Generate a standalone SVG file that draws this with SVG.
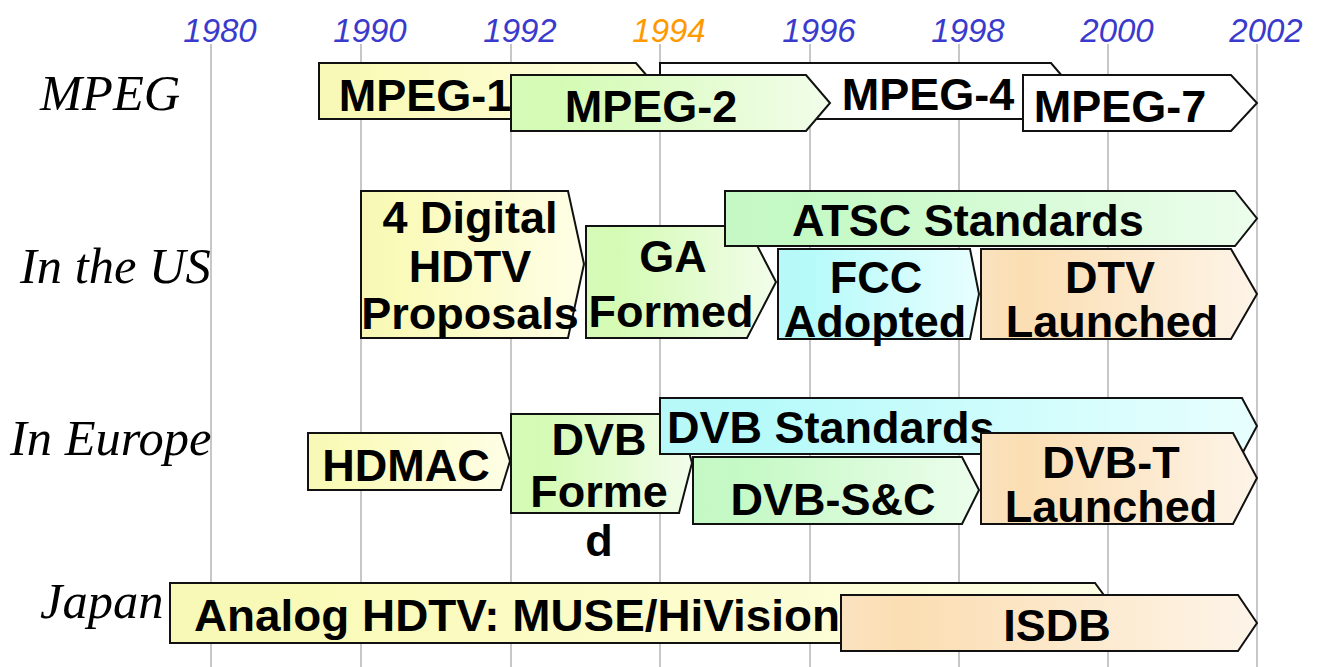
<svg xmlns="http://www.w3.org/2000/svg" width="1319" height="667" viewBox="0 0 1319 667">
<style>
.bg{fill:#ffffff}
.grid line{stroke:#b4b4b4;stroke-width:1.5}
.yr{font-family:"Liberation Sans",Arial,sans-serif;font-style:italic;font-size:33px;fill:#3a3acc;text-anchor:middle}
.yr.hl{fill:#ff9900}
.row{font-family:"Liberation Serif","Times New Roman",serif;font-style:italic;font-size:50.5px;fill:#000}
.box{stroke:#111;stroke-width:2;stroke-linejoin:miter}
.t{font-family:"Liberation Sans",Arial,sans-serif;font-weight:bold;font-size:45px;fill:#000;text-anchor:middle}
.ts{text-anchor:start}
.yel{fill:url(#gYel)}
.grn{fill:url(#gGrn)}
.mnt{fill:url(#gMnt)}
.cyn{fill:url(#gCyn)}
.pch{fill:url(#gPch)}
.wht{fill:#ffffff}
</style>
<defs>
<linearGradient id="gYel" x1="0" y1="0" x2="1" y2="0">
<stop offset="0" stop-color="#f8f8b6"/><stop offset="0.15" stop-color="#fafab8"/><stop offset="1" stop-color="#fefee6"/>
</linearGradient>
<linearGradient id="gGrn" x1="0" y1="0" x2="1" y2="0">
<stop offset="0" stop-color="#d6fab8"/><stop offset="0.15" stop-color="#d4fbb4"/><stop offset="1" stop-color="#f2fdea"/>
</linearGradient>
<linearGradient id="gMnt" x1="0" y1="0" x2="1" y2="0">
<stop offset="0" stop-color="#c6f8c6"/><stop offset="0.15" stop-color="#c4f9c4"/><stop offset="1" stop-color="#ecfdec"/>
</linearGradient>
<linearGradient id="gCyn" x1="0" y1="0" x2="1" y2="0">
<stop offset="0" stop-color="#b8f8f8"/><stop offset="0.15" stop-color="#b6fafa"/><stop offset="1" stop-color="#e8fefe"/>
</linearGradient>
<linearGradient id="gPch" x1="0" y1="0" x2="1" y2="0">
<stop offset="0" stop-color="#fae2c0"/><stop offset="0.15" stop-color="#fbdeb2"/><stop offset="1" stop-color="#fdf4e8"/>
</linearGradient>
</defs>
<rect class="bg" x="0" y="0" width="1319" height="667"/>
<g id="grid" class="grid">
<line x1="211" y1="44" x2="211" y2="667"/>
<line x1="361" y1="44" x2="361" y2="667"/>
<line x1="511" y1="44" x2="511" y2="667"/>
<line x1="660" y1="44" x2="660" y2="667"/>
<line x1="810" y1="44" x2="810" y2="667"/>
<line x1="959" y1="44" x2="959" y2="667"/>
<line x1="1108" y1="44" x2="1108" y2="667"/>
<line x1="1257" y1="44" x2="1257" y2="667"/>
</g>
<g id="years">
<text class="yr" x="220" y="42">1980</text>
<text class="yr" x="370" y="42">1990</text>
<text class="yr" x="520" y="42">1992</text>
<text class="yr hl" x="669" y="42">1994</text>
<text class="yr" x="819" y="42">1996</text>
<text class="yr" x="968" y="42">1998</text>
<text class="yr" x="1117" y="42">2000</text>
<text class="yr" x="1266" y="42">2002</text>
</g>
<g id="rowlabels">
<text class="row" x="40" y="110">MPEG</text>
<text class="row" x="20" y="283">In the US</text>
<text class="row" x="10" y="455">In Europe</text>
<text class="row" x="40" y="618">Japan</text>
</g>
<g id="connectors"/>
<g id="mpeg1">
<polygon class="box yel" points="319,63 636,63 660,91 636,119 319,119"/>
<text class="t" x="425" y="111">MPEG-1</text>
</g>
<g id="mpeg4">
<polygon class="box wht" points="660,63 1051,63 1075,91 1051,119 660,119"/>
<text class="t" x="928" y="110">MPEG-4</text>
</g>
<g id="mpeg2">
<polygon class="box grn" points="511,75 806,75 830,103 806,131 511,131"/>
<text class="t" x="651" y="122">MPEG-2</text>
</g>
<g id="mpeg7">
<polygon class="box wht" points="1023,75 1231,75 1257,103 1231,131 1023,131"/>
<text class="t" x="1120" y="122">MPEG-7</text>
</g>
<g id="proposals">
<polygon class="box yel" points="361,191 568,191 584,264 568,338 361,338"/>
<text class="t" x="470" y="233">4 Digital</text>
<text class="t" x="470" y="282">HDTV</text>
<text class="t" x="470" y="329">Proposals</text>
</g>
<g id="ga">
<polygon class="box grn" points="586,226 747,226 776,282 747,338 586,338"/>
<text class="t" x="673" y="272">GA</text>
<text class="t" x="671" y="327">Formed</text>
</g>
<g id="atsc">
<polygon class="box mnt" points="725,191 1235,191 1257,218.5 1235,246 725,246"/>
<text class="t ts" x="792" y="236">ATSC Standards</text>
</g>
<g id="fcc">
<polygon class="box cyn" points="778,249 970,249 979,294 970,339 778,339"/>
<text class="t" x="876" y="293">FCC</text>
<text class="t" x="875" y="337">Adopted</text>
</g>
<g id="dtv">
<polygon class="box pch" points="981,249 1231,249 1257,294 1231,339 981,339"/>
<text class="t" x="1110" y="293">DTV</text>
<text class="t" x="1112" y="337">Launched</text>
</g>
<g id="hdmac">
<polygon class="box yel" points="308,433 501,433 510,461 501,490 308,490"/>
<text class="t" x="406" y="481">HDMAC</text>
</g>
<g id="dvbformed">
<polygon class="box grn" points="511,414 679,414 692,463 679,513 511,513"/>
<text class="t" x="599" y="455">DVB</text>
<text class="t" x="599" y="507">Forme</text>
<text class="t" x="599" y="556">d</text>
</g>
<g id="dvbstd">
<polygon class="box cyn" points="660,398 1242,398 1257,426 1242,454 660,454"/>
<text class="t ts" x="667" y="443">DVB Standards</text>
</g>
<g id="dvbsc">
<polygon class="box mnt" points="693,457 962,457 979,490 962,524 693,524"/>
<text class="t" x="833" y="515">DVB-S&amp;C</text>
</g>
<g id="dvbt">
<polygon class="box pch" points="981,433 1233,433 1257,478 1233,524 981,524"/>
<text class="t" x="1111" y="478">DVB-T</text>
<text class="t" x="1111" y="522">Launched</text>
</g>
<g id="analog">
<polygon class="box yel" points="170,583 1095,583 1117,613 1095,643 170,643"/>
<text class="t ts" x="194" y="631" textLength="646" lengthAdjust="spacingAndGlyphs">Analog HDTV: MUSE/HiVision</text>
</g>
<g id="isdb">
<polygon class="box pch" points="841,595 1238,595 1257,623 1238,651 841,651"/>
<text class="t" x="1057" y="641">ISDB</text>
</g>
</svg>
